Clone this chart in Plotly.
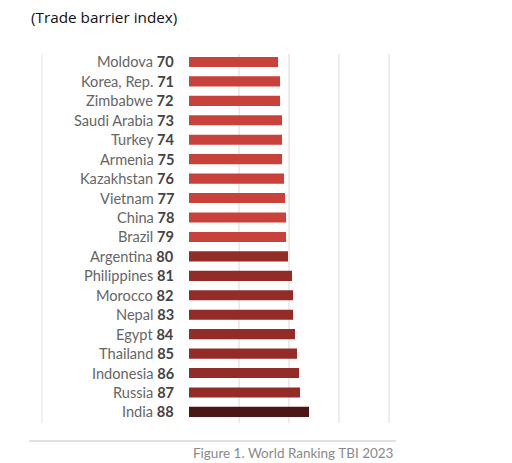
import plotly.graph_objects as go

countries = ["Moldova", "Korea, Rep.", "Zimbabwe", "Saudi Arabia", "Turkey", "Armenia",
             "Kazakhstan", "Vietnam", "China", "Brazil", "Argentina", "Philippines",
             "Morocco", "Nepal", "Egypt", "Thailand", "Indonesia", "Russia", "India"]
ranks = [70, 71, 72, 73, 74, 75, 76, 77, 78, 79, 80, 81, 82, 83, 84, 85, 86, 87, 88]
scores = [3.56, 3.64, 3.64, 3.72, 3.72, 3.72, 3.80, 3.84, 3.88, 3.88,
          3.96, 4.12, 4.16, 4.16, 4.24, 4.32, 4.40, 4.44, 4.80]
groups = ["a"] * 10 + ["b"] * 8 + ["c"]
group_colors = {"a": "#C9413B", "b": "#932B27", "c": "#4B1614"}

W, H = 512, 463
fig = go.Figure()
fig.add_trace(go.Bar(
    x=scores, y=countries, orientation="h",
    marker=dict(color=[group_colors[g] for g in groups], line=dict(width=0)),
    width=0.52, hoverinfo="skip",
))

annotations = []
for c, r in zip(countries, ranks):
    annotations.append(dict(
        x=176 / W, xref="paper", y=c, yref="y", xanchor="right", yanchor="middle",
        text=f"<span style='color:#666666'>{c}</span> <b><span style='color:#444'>{r}</span></b>",
        showarrow=False, font=dict(family="Lato", size=14.6)))

annotations.append(dict(x=29 / W, xref="paper", y=1 - 17 / H, yref="paper",
                        xanchor="left", yanchor="middle", text="(Trade barrier index)",
                        showarrow=False, font=dict(family="Open Sans", size=15.3, color="#111")))
annotations.append(dict(x=396 / W, xref="paper", y=1 - 453 / H, yref="paper",
                        xanchor="right", yanchor="middle", text="Figure 1. World Ranking TBI 2023",
                        showarrow=False, font=dict(family="Lato", size=13.5, color="#8a8a8a")))

shapes = [
    dict(type="line", xref="paper", yref="paper", x0=29 / W, x1=396 / W,
         y0=1 - 441 / H, y1=1 - 441 / H, line=dict(color="#c4c4c4", width=1)),
    dict(type="line", xref="paper", yref="paper", x0=42 / W, x1=42 / W,
         y0=1 - 423 / H, y1=1 - 54 / H, line=dict(color="#ececec", width=1.5)),
]

fig.update_layout(
    width=W, height=H, margin=dict(l=0, r=0, t=0, b=0),
    paper_bgcolor="white", plot_bgcolor="white", showlegend=False,
    xaxis=dict(domain=[188 / W, 400 / W], range=[-0.04, 8.44], dtick=2, tick0=0,
               showgrid=True, gridcolor="#ececec", gridwidth=1.5, zeroline=False,
               showticklabels=False, showline=False, fixedrange=True),
    yaxis=dict(domain=[1 - 423 / H, 1 - 54 / H], range=[18.57, -0.41],
               showticklabels=False, showgrid=False, zeroline=False, showline=False,
               categoryorder="array", categoryarray=countries),
    annotations=annotations, shapes=shapes,
)

fig.write_html("out.html")
